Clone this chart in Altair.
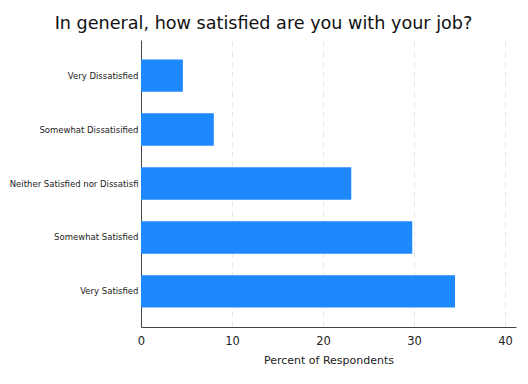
import altair as alt
import pandas as pd

categories = ["Very Dissatisfied", "Somewhat Dissatisified", "Neither Satisfied nor Dissatisfi",
              "Somewhat Satisfied", "Very Satisfied"]
percents = [4.6, 8.0, 23.1, 29.8, 34.5]

df = pd.DataFrame({"category": categories, "percent": percents})

chart = alt.Chart(df).mark_bar(color="#1E88FF").encode(
    y=alt.Y("category:N", sort=categories, title=None,
            scale=alt.Scale(paddingInner=0.4, paddingOuter=0.36),
            axis=alt.Axis(ticks=False, labelFont="DejaVu Sans", labelFontSize=8.5,
                          labelColor="#222", labelPadding=3, domainColor="#444",
                          labelLimit=200, grid=False)),
    x=alt.X("percent:Q", title="Percent of Respondents",
            scale=alt.Scale(domain=[0, 41.2], nice=False),
            axis=alt.Axis(values=[0, 10, 20, 30, 40], ticks=False, labelFont="DejaVu Sans",
                          labelFontSize=11.5, labelColor="#222", labelPadding=8,
                          titleFont="DejaVu Sans", titleFontSize=11, titleFontWeight="normal",
                          titleColor="#222", titlePadding=8, domainColor="#444",
                          grid=True, gridColor="#e8e8e8", gridDash=[6, 4], labelFlush=False)),
).properties(
    width=375, height=287,
    title=alt.TitleParams("In general, how satisfied are you with your job?", font="DejaVu Sans",
                          fontSize=17.6, fontWeight="normal", color="#111", anchor="middle",
                          dx=-65, offset=7),
    autosize=alt.AutoSizeParams(type="none"),
    padding={"left": 133, "top": 32, "right": 4, "bottom": 49},
).configure_view(stroke=None)

chart.save("out.html", embed_options={"renderer": "svg", "actions": False})
